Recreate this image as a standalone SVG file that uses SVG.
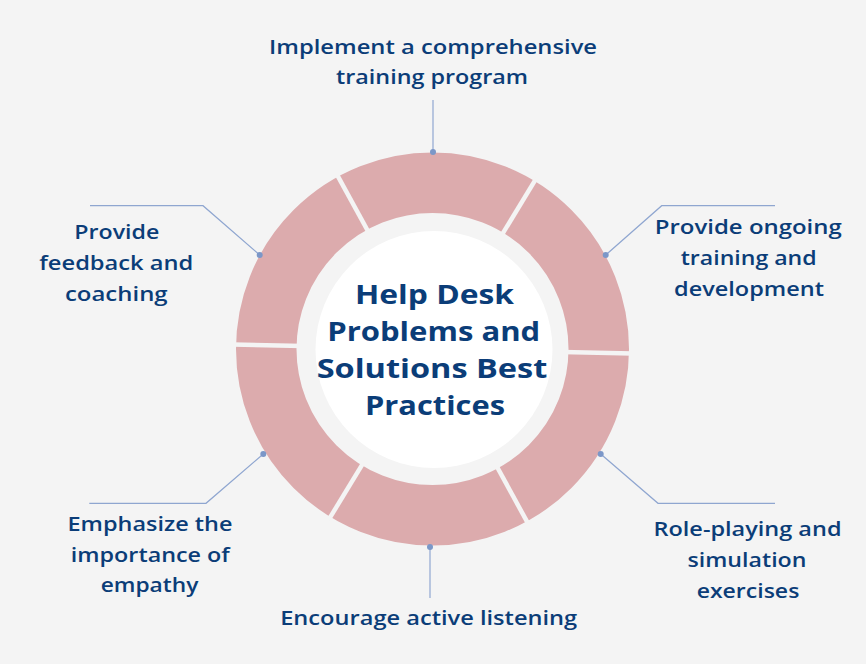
<svg xmlns="http://www.w3.org/2000/svg" width="866" height="664" viewBox="0 0 866 664">
<style>
.lbl{font-family:"Open Sans","Liberation Sans",sans-serif;font-weight:600;font-size:20px;fill:#0b3d78;text-anchor:middle}
.ttl{font-family:"Open Sans","Liberation Sans",sans-serif;font-weight:700;font-size:27px;fill:#0b3d78;text-anchor:middle}
.con{fill:none;stroke:#8fa6d0;stroke-width:1.2}
.dot{fill:#7b97c8}
.gap{stroke:#f4f4f4;stroke-width:4.5}
</style>
<rect width="866" height="664" fill="#f4f4f4"/>
<g id="ring">
<circle cx="432.5" cy="349" r="166.25" fill="none" stroke="#dcabad" stroke-width="60.5"/>
<line class="gap" x1="562.47" y1="351.95" x2="632.45" y2="353.54"/>
<line class="gap" x1="494.93" y1="463.03" x2="528.54" y2="524.43"/>
<line class="gap" x1="364.96" y1="460.08" x2="328.60" y2="519.89"/>
<line class="gap" x1="302.53" y1="346.05" x2="232.55" y2="344.46"/>
<line class="gap" x1="370.07" y1="234.97" x2="336.46" y2="173.57"/>
<line class="gap" x1="500.04" y1="237.92" x2="536.40" y2="178.11"/>
</g>
<g id="center">
<circle cx="434" cy="349.5" r="118.5" fill="#ffffff"/>
<text class="ttl" x="434.5" y="304.3" textLength="159" lengthAdjust="spacingAndGlyphs">Help Desk</text>
<text class="ttl" x="433.7" y="341" textLength="213" lengthAdjust="spacingAndGlyphs">Problems and</text>
<text class="ttl" x="432" y="378.3" textLength="230.7" lengthAdjust="spacingAndGlyphs">Solutions Best</text>
<text class="ttl" x="435" y="415" textLength="140" lengthAdjust="spacingAndGlyphs">Practices</text>
</g>
<g id="connectors">
<polyline class="con" points="433,100 433,152"/>
<polyline class="con" points="605.7,255 661.7,205.7 775,205.7"/>
<polyline class="con" points="259.7,255 203,205.7 90,205.7"/>
<polyline class="con" points="263.3,454 206,503.3 89.3,503.3"/>
<polyline class="con" points="600.7,454 658,503.3 775,503.3"/>
<polyline class="con" points="430,547 430,598"/>
<circle class="dot" cx="433" cy="152" r="3"/>
<circle class="dot" cx="605.7" cy="255" r="3"/>
<circle class="dot" cx="259.7" cy="255" r="3"/>
<circle class="dot" cx="263.3" cy="454" r="3"/>
<circle class="dot" cx="600.7" cy="454" r="3"/>
<circle class="dot" cx="430" cy="547" r="3"/>
</g>
<g id="n-top">
<text class="lbl" x="433" y="54.3" textLength="328" lengthAdjust="spacingAndGlyphs">Implement a comprehensive</text>
<text class="lbl" x="432" y="84.3" textLength="192" lengthAdjust="spacingAndGlyphs">training program</text>
</g>
<g id="n-topright">
<text class="lbl" x="748.3" y="234.3" textLength="187" lengthAdjust="spacingAndGlyphs">Provide ongoing</text>
<text class="lbl" x="748.7" y="265" textLength="136" lengthAdjust="spacingAndGlyphs">training and</text>
<text class="lbl" x="749" y="295.7" textLength="150" lengthAdjust="spacingAndGlyphs">development</text>
</g>
<g id="n-topleft">
<text class="lbl" x="116.8" y="239.3" textLength="85" lengthAdjust="spacingAndGlyphs">Provide</text>
<text class="lbl" x="116.3" y="270" textLength="154" lengthAdjust="spacingAndGlyphs">feedback and</text>
<text class="lbl" x="116.3" y="300.7" textLength="102.7" lengthAdjust="spacingAndGlyphs">coaching</text>
</g>
<g id="n-bottomright">
<text class="lbl" x="747.5" y="535.7" textLength="188" lengthAdjust="spacingAndGlyphs">Role-playing and</text>
<text class="lbl" x="747" y="566.7" textLength="119" lengthAdjust="spacingAndGlyphs">simulation</text>
<text class="lbl" x="748" y="597.7" textLength="102.7" lengthAdjust="spacingAndGlyphs">exercises</text>
</g>
<g id="n-bottomleft">
<text class="lbl" x="150" y="530.7" textLength="165" lengthAdjust="spacingAndGlyphs">Emphasize the</text>
<text class="lbl" x="150.3" y="561.7" textLength="159" lengthAdjust="spacingAndGlyphs">importance of</text>
<text class="lbl" x="149.5" y="591.7" textLength="97.7" lengthAdjust="spacingAndGlyphs">empathy</text>
</g>
<g id="n-bottom">
<text class="lbl" x="428.7" y="625" textLength="297" lengthAdjust="spacingAndGlyphs">Encourage active listening</text>
</g>
</svg>
